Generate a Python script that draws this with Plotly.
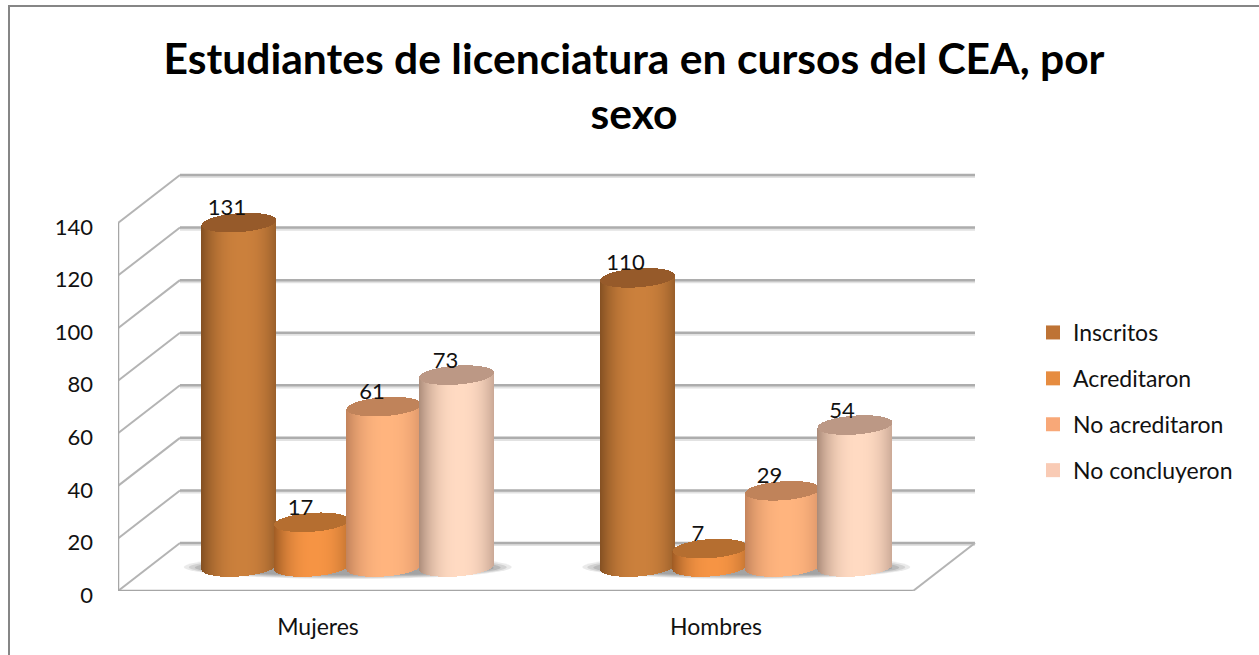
import math
import plotly.graph_objects as go

# ---- data ----
categorias = ["Mujeres", "Hombres"]
series = ["Inscritos", "Acreditaron", "No acreditaron", "No concluyeron"]
inscritos = [131, 110]
acreditaron = [17, 7]
no_acreditaron = [61, 29]
no_concluyeron = [73, 54]
valores = [inscritos, acreditaron, no_acreditaron, no_concluyeron]
ticks_y = [0, 20, 40, 60, 80, 100, 120, 140]

# ---- styles ----
W, H = 1259, 655
PLOT_L, PLOT_B = 118, 591          # pixel position of the front axes corner
K = 368 / 140                      # pixels per unit of value
DX, DY = 62, 48                    # depth offset of the back wall (pixels)
FLOOR_R = 913
GRID = "#ADADAD"
LEG = ["#BE7335", "#E68C40", "#F8A878", "#F9CBB5"]
EDGE_L = [(132, 80, 34), (160, 92, 36), (196, 132, 92), (172, 140, 122)]
EDGE_R = [(128, 78, 34), (170, 100, 40), (204, 136, 96), (176, 144, 128)]
MID = [(203, 128, 60), (246, 148, 68), (255, 180, 126), (255, 218, 194)]
TOP = [(150, 90, 42), (181, 110, 48), (192, 131, 90), (188, 152, 133)]
GROUP_X = [239, 637.5]             # centre of the first cylinder of each group
STEP = 72.5
RX, RY, TILT = 37.5, 9.5, 2.5      # cylinder ellipse, pixels
BASE_PX = 567                      # floor centre of the cylinders
LABEL_DX = [[-12, -12], [-11, -12], [-12, -13], [-11, -13]]
LABEL_DY = 13
FONT = "Lato"
TXT = "#111111"


def rgb(c):
    return "rgb(%d,%d,%d)" % tuple(round(v) for v in c)


def mix(a, b, t):
    return [a[i] + (b[i] - a[i]) * t for i in range(3)]


off = (PLOT_B - BASE_PX) / K
ry = RY / K
tilt = TILT / K

fig = go.Figure()

for s, vals in enumerate(valores):
    for g, v in enumerate(vals):
        cx = GROUP_X[g] + STEP * s
        xs, base, hgt, cols, tb, th = [], [], [], [], [], []
        x = math.floor(cx - RX) + 0.5
        while x < cx + RX:
            u = (x - cx) / RX
            arc = math.sqrt(max(0.0, 1 - u * u))
            xs.append(x)
            centre = off + tilt * u
            base.append(centre - ry * arc)
            hgt.append(v + ry * arc)
            t = 1 - min(1.0, abs(u - 0.08) / 1.08) ** 2.4
            cols.append(rgb(mix(EDGE_L[s] if u < 0.08 else EDGE_R[s], MID[s], t)))
            tb.append(centre + v - ry * arc)
            th.append(2 * ry * arc)
            x += 1
        fig.add_bar(x=xs, y=hgt, base=base, width=1, marker=dict(color=cols, line=dict(width=0)),
                    showlegend=False, hoverinfo="skip")
        fig.add_bar(x=xs, y=th, base=tb, width=1, marker=dict(color=rgb(TOP[s]), line=dict(width=0)),
                    showlegend=False, hoverinfo="skip")

# data labels
lx, ly, lt = [], [], []
for s, vals in enumerate(valores):
    for g, v in enumerate(vals):
        lx.append(GROUP_X[g] + STEP * s + LABEL_DX[s][g])
        ly.append(off + v + LABEL_DY / K)
        lt.append(str(v))
fig.add_scatter(x=lx, y=ly, text=lt, mode="text", textposition="middle center",
                textfont=dict(family=FONT, size=22, color=TXT), showlegend=False, hoverinfo="skip")

# legend entries
for s, name in enumerate(series):
    fig.add_scatter(x=[None], y=[None], name=name, mode="markers", legendgroup=name,
                    marker=dict(symbol="square", size=14, color=LEG[s], line=dict(width=0)))

shapes = []


def seg(pts, color, width):
    path = "M" + " L".join("%g,%g" % p for p in pts)
    shapes.append(dict(type="path", path=path, xref="x", yref="y", layer="below",
                       line=dict(color=color, width=width)))


top_val = max(ticks_y)
# soft gridline shadow, then the lines
for tv in ticks_y:
    back_x = PLOT_L + DX
    right = back_x + (FLOOR_R - PLOT_L)
    yb = tv + DY / K
    seg([(back_x, yb - 1.6 / K), (right, yb - 1.6 / K)], "#E2E2E2", 3)
    seg([(PLOT_L, tv), (back_x, yb)], "#B4B4B4", 2)
    seg([(back_x, yb), (right, yb)], GRID, 2.5)
seg([(PLOT_L, 0), (PLOT_L, top_val)], "#A6A6A6", 2.5)
seg([(PLOT_L, 0), (FLOOR_R, 0)], "#A6A6A6", 2.5)
seg([(FLOOR_R, 0), (PLOT_L + DX + FLOOR_R - PLOT_L, DY / K)], "#B4B4B4", 2)

# soft shadow on the floor under each group
for g in range(len(categorias)):
    c0 = GROUP_X[g] + STEP * 1.5
    for inset, op in ((0, .12), (5, .16), (11, .2), (18, .22)):
        half = 164 - inset
        shapes.append(dict(type="circle", layer="below", xref="x", yref="y", fillcolor="#555555",
                           opacity=op, line=dict(width=0),
                           x0=c0 - half, x1=c0 + half,
                           y0=(PLOT_B - (579 - inset * 0.2)) / K,
                           y1=(PLOT_B - (555 + inset * 0.3)) / K))

# chart frame
def px(x):
    return (x - PLOT_L) / (W - PLOT_L)


def py(y):
    return (PLOT_B - y) / PLOT_B


shapes.append(dict(type="path", xref="paper", yref="paper", layer="below",
                   line=dict(color="#868686", width=2),
                   path="M%g,%g L%g,%g L%g,%g" % (px(9), py(H + 5), px(9), py(6), px(W + 5), py(6))))

fig.update_layout(
    width=W, height=H,
    margin=dict(l=PLOT_L, r=0, t=0, b=H - PLOT_B, pad=0, autoexpand=False),
    paper_bgcolor="white", plot_bgcolor="rgba(0,0,0,0)",
    barmode="overlay", bargap=0,
    shapes=shapes,
    font=dict(family=FONT, size=22, color=TXT),
    title=dict(text="Estudiantes de licenciatura en cursos del CEA, por<br>sexo",
               x=634 / W, xref="container", xanchor="center", y=1 - 74 / H, yanchor="middle",
               font=dict(family=FONT, size=42.6, color="#000000", weight="bold")),
    xaxis=dict(range=[PLOT_L, W], showgrid=False, zeroline=False, showline=False, fixedrange=True,
               tickmode="array", tickvals=[318, 716], ticktext=categorias, ticks="",
               tickfont=dict(family=FONT, size=23, color=TXT), ticklabelstandoff=20),
    yaxis=dict(range=[0, PLOT_B / K], showgrid=False, zeroline=False, showline=False, fixedrange=True,
               tickmode="array", tickvals=ticks_y, ticktext=[str(t) for t in ticks_y], ticks="",
               ticklabelstandoff=24, ticklabelshift=4),
    legend=dict(x=px(1033), xanchor="left", y=py(311), yanchor="top", tracegroupgap=13,
                itemsizing="trace", bgcolor="rgba(0,0,0,0)", font=dict(family=FONT, size=23, color=TXT)),
)

fig.write_html("out.html", config={"displayModeBar": False},
               post_script="document.body.style.margin='0';document.body.style.overflow='hidden';")
